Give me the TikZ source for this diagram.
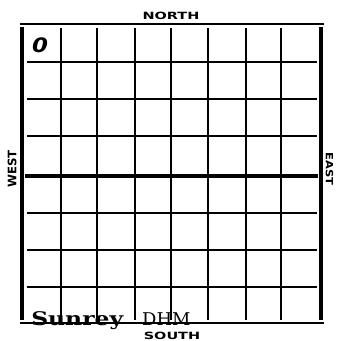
\documentclass[tikz,border=0pt]{standalone}
\usepackage{fontspec}
\newfontfamily\dirfont{DejaVu Sans}
\newfontfamily\brandfont{DejaVu Serif}
\usepackage{tikz}
\usetikzlibrary{positioning}

\tikzset{
  frameline/.style={line width=2.8pt},
  gridline/.style={line width=1.6pt},
  dirlabel/.style={font=\dirfont\bfseries\fontsize{8.5}{8.5}\selectfont, inner sep=0pt, transform shape},
}

\begin{document}
\begin{tikzpicture}[x=0.03cm,y=-0.03cm]
  \useasboundingbox (0,0) rectangle (337,341);
  % outer frame
  \draw[line width=2.4pt] (20,24) -- (324,24);
  \draw[line width=2.4pt] (20,323) -- (324,323);
  \draw[frameline] (22,27) -- (22,320);
  \draw[frameline] (321,27) -- (321,320);
  % grid
  \foreach \x in {61,97,135,208,246,281}
    \draw[gridline] (\x,28) -- (\x,320);
  \draw[line width=2pt] (171,28) -- (171,320);
  \foreach \y in {62,99,136,213,250,287}
    \draw[gridline] (27,\y) -- (317,\y);
  \draw[line width=3.3pt] (25,176) -- (318,176);
  % compass labels
  \node[dirlabel, xscale=1.45] (north) at (171,15.5) {NORTH};
  \node[dirlabel, xscale=1.45] (south) at (172,336) {SOUTH};
  \node[dirlabel, font=\dirfont\bfseries\fontsize{10}{10}\selectfont, rotate=90] (west) at (12,169) {WEST};
  \node[dirlabel, rotate=-90, xscale=1.15] (east) at (329.5,169) {EAST};
  % cell mark
  \node[font=\dirfont\bfseries\itshape\fontsize{17}{17}\selectfont, inner sep=0pt, xscale=1.15, transform shape] (mark) at (40,45) {0};
  % brand
  \node[font=\brandfont\bfseries\fontsize{16}{16}\selectfont, inner sep=0pt, anchor=base west, xscale=1.25, transform shape] (brand) at (31,325) {Sunrey};
  \node[font=\brandfont\fontsize{15}{15}\selectfont, inner sep=0pt, anchor=base west, xscale=1.02, transform shape] (model) at (142,325) {DHM};
\end{tikzpicture}
\end{document}
